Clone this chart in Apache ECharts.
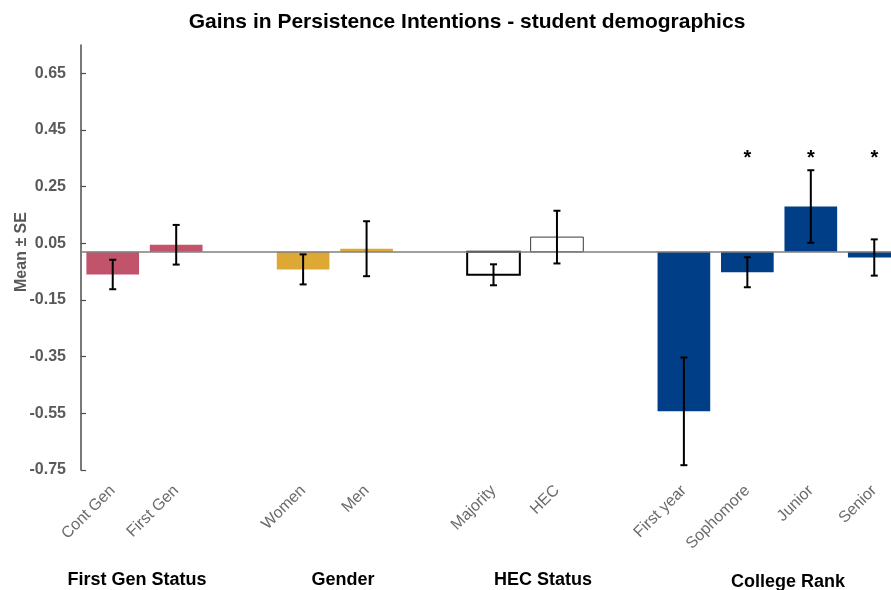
<!DOCTYPE html>
<html>
<head>
<meta charset="utf-8">
<script src="https://cdn.jsdelivr.net/npm/echarts@6/dist/echarts.min.js"></script>
<style>
  html, body { margin: 0; padding: 0; background: #ffffff; overflow: hidden; }
  /* the plot runs a little past the right edge of the page, so the canvas is wider than the window */
  #chart { width: 906px; height: 590px; }
</style>
</head>
<body>
<div id="chart"></div>
<script>
// Categories along the x axis; empty strings are the spacers between groups.
const categories = ['Cont Gen', 'First Gen', '', 'Women', 'Men', '', 'Majority', 'HEC', '', 'First year', 'Sophomore', 'Junior', 'Senior'];
// Mean gain per category.
const means = [-0.060, 0.045, null, -0.042, 0.031, null, -0.061, 0.072, null, -0.543, -0.052, 0.180, 0.000];
// Standard error per category.
const standardErrors = [0.052, 0.070, null, 0.053, 0.097, null, 0.037, 0.093, null, 0.190, 0.053, 0.128, 0.064];
// Categories flagged with an asterisk.
const significant = [false, false, false, false, false, false, false, false, false, false, true, true, true];
// Group headings printed under the category labels.
const groupNames = ['First Gen Status', 'Gender', 'HEC Status', 'College Rank'];
// Y axis tick values.
const yTickValues = [-0.75, -0.55, -0.35, -0.15, 0.05, 0.25, 0.45, 0.65];
// Axis value where the horizontal reference line sits and bars start.
const baseline = 0.02;

const FONT = '"Liberation Sans", Arial, Helvetica, sans-serif';
const ROSE = '#c1536a';
const GOLD = '#dea834';
const NAVY = '#003f87';

// Fill / outline per category slot.
const barStyles = [
  { fill: ROSE }, { fill: ROSE }, null,
  { fill: GOLD }, { fill: GOLD }, null,
  { fill: '#ffffff', stroke: '#000000', lineWidth: 2 }, { fill: '#ffffff', stroke: '#3a3a3a', lineWidth: 1 }, null,
  { fill: NAVY }, { fill: NAVY }, { fill: NAVY }, { fill: NAVY }
];

const barData = [];
const starData = [];
means.forEach(function (m, i) {
  if (m === null) return;
  barData.push([i, m, standardErrors[i]]);
  if (significant[i]) starData.push([i, m]);
});

const STAR_LEVEL = 0.35;

const chart = echarts.init(document.getElementById('chart'), null, { renderer: 'canvas' });

chart.setOption({
  animation: false,
  backgroundColor: '#ffffff',
  textStyle: { fontFamily: FONT },
  grid: { left: 81, top: 45, width: 825, height: 425, containLabel: false },
  xAxis: {
    type: 'category',
    data: categories,
    boundaryGap: true,
    axisLine: { show: false },
    axisTick: { show: false },
    splitLine: { show: false },
    axisLabel: {
      interval: 0,
      rotate: 45,
      margin: 18,
      color: '#6b6b6b',
      fontSize: 16,
      fontFamily: FONT
    }
  },
  yAxis: {
    type: 'value',
    min: -0.75,
    max: 0.75,
    splitLine: { show: false },
    axisLine: { show: true, lineStyle: { color: '#4d4d4d', width: 1.5 } },
    axisTick: { show: true, inside: true, length: 5, customValues: yTickValues, lineStyle: { color: '#4d4d4d', width: 1.2 } },
    axisLabel: {
      customValues: yTickValues,
      margin: 15,
      color: '#595959',
      fontWeight: 'bold',
      fontSize: 16,
      fontFamily: FONT,
      formatter: function (v) { return v.toFixed(2); }
    }
  },
  series: [
    {
      name: 'mean',
      type: 'custom',
      data: barData,
      z: 2,
      renderItem: function (params, api) {
        const i = api.value(0);
        const m = api.value(1);
        const a = api.coord([i, baseline]);
        const b = api.coord([i, m]);
        const w = api.size([1, 0])[0] * 0.83;
        const st = barStyles[i];
        const lw = st.lineWidth || 0;
        return {
          type: 'rect',
          shape: { x: a[0] - w / 2, y: Math.min(a[1], b[1]), width: w, height: Math.abs(b[1] - a[1]) },
          style: { fill: st.fill, stroke: st.stroke || null, lineWidth: lw }
        };
      },
      markLine: {
        silent: true,
        symbol: ['none', 'none'],
        label: { show: false },
        lineStyle: { color: '#7f7f7f', width: 1.5, type: 'solid' },
        data: [{ yAxis: baseline }]
      }
    },
    {
      name: 'se',
      type: 'custom',
      data: barData,
      z: 5,
      renderItem: function (params, api) {
        const i = api.value(0);
        const m = api.value(1);
        const se = api.value(2);
        const top = api.coord([i, m + se]);
        const bot = api.coord([i, m - se]);
        const cap = 3.5;
        const ls = { stroke: '#000000', lineWidth: 2 };
        return {
          type: 'group',
          children: [
            { type: 'line', shape: { x1: top[0], y1: top[1], x2: bot[0], y2: bot[1] }, style: ls },
            { type: 'line', shape: { x1: top[0] - cap, y1: top[1], x2: top[0] + cap, y2: top[1] }, style: ls },
            { type: 'line', shape: { x1: bot[0] - cap, y1: bot[1], x2: bot[0] + cap, y2: bot[1] }, style: ls }
          ]
        };
      }
    },
    {
      name: 'significance',
      type: 'custom',
      data: starData,
      z: 6,
      renderItem: function (params, api) {
        const p = api.coord([api.value(0), STAR_LEVEL]);
        return {
          type: 'text',
          x: p[0],
          y: p[1],
          style: { text: '*', align: 'center', verticalAlign: 'middle', fill: '#000000', font: 'bold 20px ' + FONT }
        };
      }
    }
  ],
  graphic: [
    {
      type: 'text', x: 467, y: 22,
      style: { text: 'Gains in Persistence Intentions - student demographics', align: 'center', verticalAlign: 'middle', fill: '#000000', font: 'bold 21px ' + FONT }
    },
    {
      type: 'text', x: 22, y: 252, rotation: Math.PI / 2,
      style: { text: 'Mean \u00b1 SE', align: 'center', verticalAlign: 'middle', fill: '#595959', font: 'bold 16px ' + FONT }
    },
    { type: 'text', x: 137, y: 580, style: { text: groupNames[0], align: 'center', verticalAlign: 'middle', fill: '#000000', font: 'bold 18px ' + FONT } },
    { type: 'text', x: 343, y: 580, style: { text: groupNames[1], align: 'center', verticalAlign: 'middle', fill: '#000000', font: 'bold 18px ' + FONT } },
    { type: 'text', x: 543, y: 580, style: { text: groupNames[2], align: 'center', verticalAlign: 'middle', fill: '#000000', font: 'bold 18px ' + FONT } },
    { type: 'text', x: 788, y: 582, style: { text: groupNames[3], align: 'center', verticalAlign: 'middle', fill: '#000000', font: 'bold 18px ' + FONT } }
  ]
});
</script>
</body>
</html>
